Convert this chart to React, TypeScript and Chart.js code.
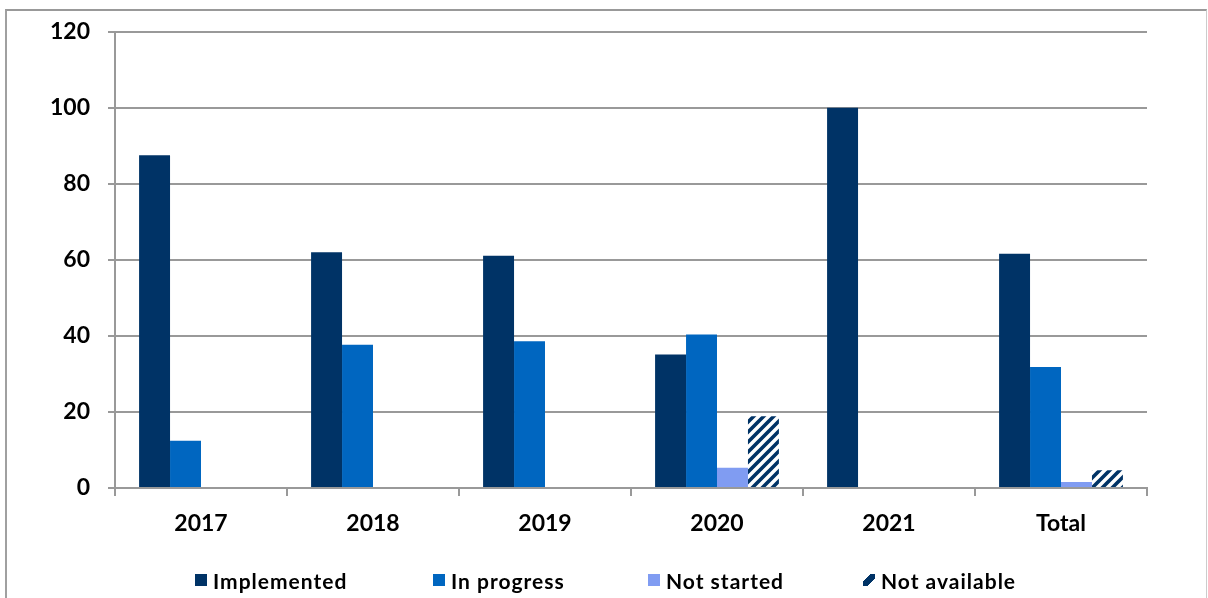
import React, { useEffect, useRef } from "react";
import { Chart, registerables } from "chart.js";

Chart.register(...registerables);

const categories = ["2017", "2018", "2019", "2020", "2021", "Total"];
const implemented = [87.5, 62.0, 61.1, 35.1, 100, 61.6];
const inProgress = [12.4, 37.7, 38.6, 40.4, null, 31.8];
const notStarted = [null, null, null, 5.3, null, 1.6];
const notAvailable = [null, null, null, 18.9, null, 4.7];
const yMin = 0;
const yMax = 120;
const yStep = 20;

const seriesNames = ["Implemented", "In progress", "Not started", "Not available"];
const seriesColors = ["#003366", "#0066C0", "#809CF2", "#003366"];

const FONT = "Lato, 'Open Sans', sans-serif";

function makeHatch(color: string): CanvasPattern | string {
  const size = 10;
  const c = document.createElement("canvas");
  c.width = size;
  c.height = size;
  const ctx = c.getContext("2d");
  if (!ctx) return color;
  ctx.fillStyle = "#ffffff";
  ctx.fillRect(0, 0, size, size);
  ctx.strokeStyle = color;
  ctx.lineWidth = 3.6;
  ctx.beginPath();
  for (const k of [0, size, 2 * size]) {
    ctx.moveTo(k + size, -size);
    ctx.lineTo(k - 2 * size, 2 * size);
  }
  ctx.stroke();
  const p = ctx.createPattern(c, "repeat");
  return p || color;
}

const legendLeft = [195, 433, 648, 863];

export default function App() {
  const ref = useRef<HTMLCanvasElement | null>(null);

  useEffect(() => {
    if (!ref.current) return;
    const hatch = makeHatch(seriesColors[3]);
    const tickFont = { family: FONT, size: 23, weight: "bold" as const };
    const chart = new Chart(ref.current, {
      type: "bar",
      data: {
        labels: categories,
        datasets: [
          { label: seriesNames[0], data: implemented, backgroundColor: seriesColors[0] },
          { label: seriesNames[1], data: inProgress, backgroundColor: seriesColors[1] },
          { label: seriesNames[2], data: notStarted, backgroundColor: seriesColors[2] },
          { label: seriesNames[3], data: notAvailable, backgroundColor: hatch as any },
        ],
      },
      options: {
        responsive: true,
        maintainAspectRatio: false,
        animation: false,
        layout: { padding: { left: 10, right: 61, top: 30, bottom: 50 } },
        datasets: { bar: { categoryPercentage: 0.72, barPercentage: 1, borderWidth: 0 } },
        plugins: { legend: { display: false }, tooltip: { enabled: false } },
        scales: {
          x: {
            grid: {
              display: true,
              drawOnChartArea: false,
              drawTicks: true,
              tickLength: 8,
              color: "#999999",
              lineWidth: 2,
              offset: true,
            },
            border: { display: true, color: "#999999", width: 2 },
            ticks: { font: tickFont, color: "#000000", padding: 14 },
            afterFit: (s: any) => {
              s.height = 60;
            },
          },
          y: {
            min: yMin,
            max: yMax,
            ticks: { stepSize: yStep, font: tickFont, color: "#000000", padding: 18 },
            grid: { color: "#999999", lineWidth: 2, tickLength: 7, drawTicks: true },
            border: { display: true, color: "#999999", width: 2 },
            afterFit: (s: any) => {
              s.width = 105;
            },
          },
        },
      },
    });
    return () => chart.destroy();
  }, []);

  return (
    <div
      style={{
        position: "fixed",
        left: 0,
        top: 0,
        width: 1208,
        height: 598,
        background: "#ffffff",
        overflow: "hidden",
      }}
    >
      <div
        style={{
          position: "absolute",
          left: 5,
          top: 9,
          right: 1,
          height: 700,
          borderLeft: "2px solid #a0a0a0",
          borderTop: "2px solid #999999",
          borderRight: "1px solid #cccccc",
        }}
      />
      <div style={{ position: "absolute", left: 0, top: 0, width: 1208, height: 598 }}>
        <canvas ref={ref} />
      </div>
      {seriesNames.map((name, i) => (
        <div
          key={name}
          style={{
            position: "absolute",
            left: legendLeft[i],
            top: 567,
            height: 26,
            display: "flex",
            alignItems: "center",
            fontFamily: FONT,
            fontWeight: "bold",
            fontSize: 21,
            letterSpacing: 1,
            color: "#000000",
            whiteSpace: "nowrap",
          }}
        >
          <span
            style={{
              display: "inline-block",
              width: 12,
              height: 12,
              marginRight: 6,
              background:
                i === 3
                  ? "linear-gradient(135deg, #ffffff 0 30%, #003366 30% 70%, #ffffff 70% 100%)"
                  : seriesColors[i],
            }}
          />
          {name}
        </div>
      ))}
    </div>
  );
}
